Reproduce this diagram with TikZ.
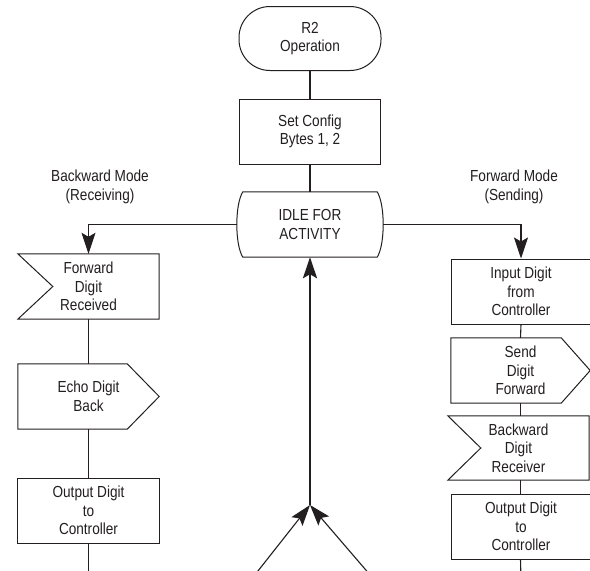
\documentclass[tikz,border=0pt]{standalone}
\usepackage{fontspec}
\setmainfont{Liberation Sans}[FakeStretch=0.85]
\usetikzlibrary{arrows.meta,calc}
\definecolor{ink}{HTML}{231F20}
\begin{document}
\begin{tikzpicture}[x=1pt,y=-1pt,
  every node/.style={text=ink,font=\fontsize{16}{18.5}\selectfont,align=center,inner sep=0pt},
  boxshape/.style={minimum height=65pt},
  drawn/.style={draw=ink,line width=1pt},
  thin/.style={draw=ink,line width=1.1pt},
  heavy/.style={draw=ink,line width=2.7pt},
  arr/.style={-{Stealth[length=21pt,width=14pt,inset=4pt]}}
]
\useasboundingbox (0,0) rectangle (590,571);
\clip (0,0) rectangle (590,571);
\fill[white] (0,0) rectangle (590,571);

% centre column
\node[drawn,minimum width=142pt,minimum height=64pt,rounded corners=31pt] (term) at (310,38.5) {R2\\Operation};
\node[drawn,minimum width=141pt,boxshape] (cfg) at (310,131.5) {Set Config\\Bytes 1, 2};
\node[minimum width=146pt,boxshape] (idle) at (310,224.5) {IDLE FOR\\ACTIVITY};
\draw[drawn] ($(idle.north west)+(6,0)$) -- ($(idle.north east)+(-6,0)$)
  .. controls ($(idle.north east)+(2,13)$) and ($(idle.south east)+(2,-13)$) .. ($(idle.south east)+(-6,0)$)
  -- ($(idle.south west)+(6,0)$)
  .. controls ($(idle.south west)+(-2,-13)$) and ($(idle.north west)+(-2,13)$) .. cycle;

% left column
\node (bwm) at (100,187) {Backward Mode\\(Receiving)};
\node[minimum width=141pt,boxshape] (fdr) at (88.5,286.5) {Forward\\Digit\\Received};
\draw[drawn] (fdr.north west) -- (fdr.north east) -- (fdr.south east) -- (fdr.south west)
  -- ($(fdr.west)+(35,0)$) -- cycle;
\node[minimum width=141pt,boxshape] (echo) at (88.5,396.5) {Echo Digit\\Back};
\draw[drawn] (echo.north west) -- ($(echo.north east)+(-32,0)$) -- (echo.east)
  -- ($(echo.south east)+(-32,0)$) -- (echo.south west) -- cycle;
\node[drawn,minimum width=142pt,boxshape] (outL) at (88.5,510.5) {Output Digit\\to\\Controller};
\coordinate (endL) at (88.5,580);

% right column
\node (fwm) at (514,187) {Forward Mode\\(Sending)};
\node[drawn,minimum width=144pt,boxshape] (inp) at (523,291.5) {};
\node at (521,291.5) (inptext) {Input Digit\\from\\Controller};
\node[minimum width=139pt,boxshape] (send) at (520.5,370.5) {Send\\Digit\\Forward};
\draw[drawn] (send.north west) -- ($(send.north east)+(-29,0)$) -- (send.east)
  -- ($(send.south east)+(-29,0)$) -- (send.south west) -- cycle;
\node[minimum width=141pt,minimum height=64pt] (back) at (518.5,448) {Backward\\Digit\\Receiver};
\draw[drawn] (back.north west) -- (back.north east) -- (back.south east) -- (back.south west)
  -- ($(back.west)+(33,0)$) -- cycle;
\node[drawn,minimum width=144pt,boxshape] (outR) at (523,526.5) {};
\node at (521,526.5) (outRtext) {Output Digit\\to\\Controller};
\coordinate (endR) at (521,580);

% bottom inputs
\coordinate (j) at (310,505);
\coordinate (bl) at (254,576);
\coordinate (br) at (371,576);

% connectors
\draw[heavy] (term.south) -- (cfg.north);
\draw[heavy] (cfg.south) -- (idle.north);
\draw[heavy,arr] (j) -- (idle.south);
\draw[thin,arr] (bl) -- (j);
\draw[thin,arr] (br) -- (j);

\draw[thin,arr] (idle.west) -| (fdr.north);
\draw[thin] (fdr.south) -- (echo.north);
\draw[thin] (echo.south) -- (outL.north);
\draw[thin] (outL.south) -- (endL);

\draw[thin,arr] (idle.east) -| (inptext.north |- inp.north);
\draw[thin] (inptext.north |- inp.south) -- (send.north);
\draw[thin] (send.south) -- (send.south |- back.north);
\draw[thin] (send.south |- back.south) -- (send.south |- outR.north);
\draw[thin] (send.south |- outR.south) -- (endR);
\end{tikzpicture}
\end{document}
